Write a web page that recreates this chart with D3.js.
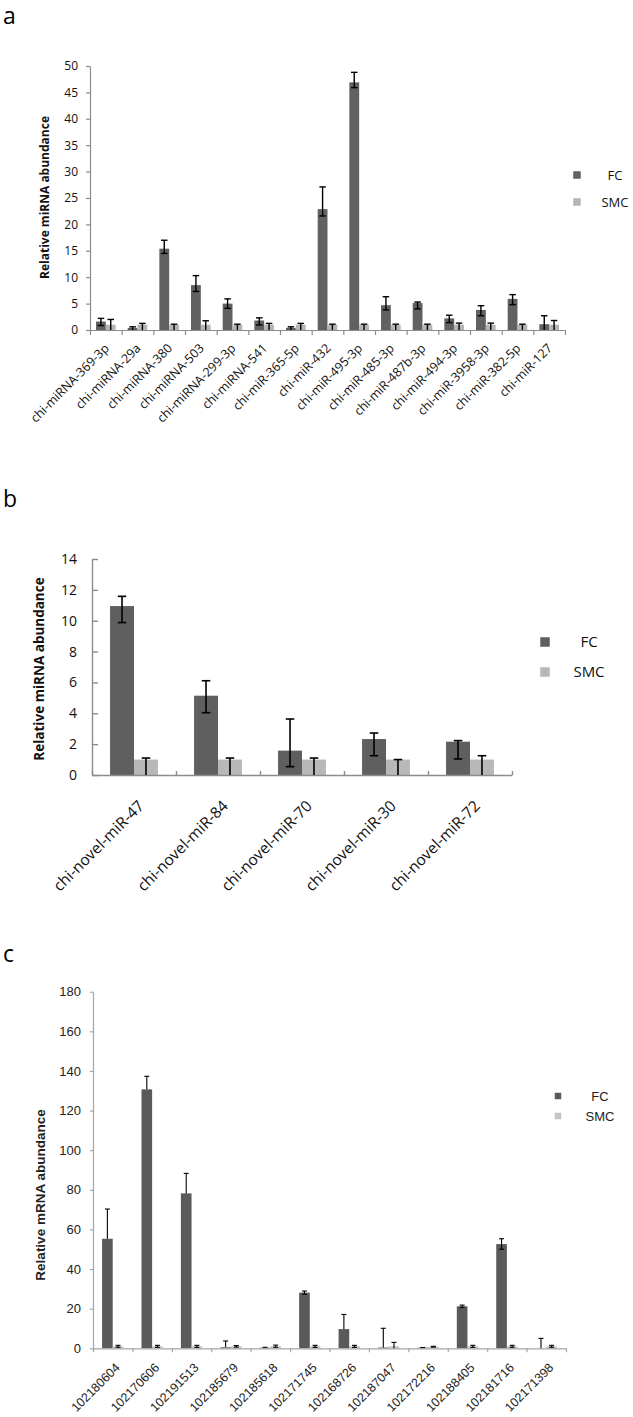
<!DOCTYPE html>
<html><head><meta charset="utf-8">
<script src="https://cdn.jsdelivr.net/npm/d3@7"></script>
<style>body{margin:0;background:#fff}svg{display:block}</style>
</head><body>
<script>
// ---------- DATA ----------
const seriesNames = ["FC", "SMC"];

// Panel a
const catsA = ["chi-miRNA-369-3p","chi-miRNA-29a","chi-miRNA-380","chi-miRNA-503","chi-miRNA-299-3p","chi-miRNA-541","chi-miR-365-5p","chi-miR-432","chi-miR-495-3p","chi-miR-485-3p","chi-miR-487b-3p","chi-miR-494-3p","chi-miR-3958-3p","chi-miR-382-5p","chi-miR-127"];
const fcA    = [1.6, 0.4, 15.4, 8.5, 5.0, 1.8, 0.4, 22.9, 46.9, 4.7, 5.1, 2.2, 3.8, 5.9, 1.1];
const fcAHi  = [2.2, 0.6, 17.0, 10.3, 5.9, 2.3, 0.6, 27.1, 48.8, 6.3, 5.3, 2.8, 4.6, 6.7, 2.7];
const fcALo  = [0.85, 0, 14.5, 7.3, 4.1, 0.95, 0, 21.6, 45.9, 3.8, 4.0, 1.4, 2.7, 4.8, 0];
const smcA   = [1.0, 1.0, 1.0, 1.0, 1.0, 1.0, 1.0, 1.0, 1.0, 1.0, 1.0, 1.0, 1.0, 1.0, 1.0];
const smcAHi = [2.0, 1.25, 1.1, 1.75, 1.1, 1.25, 1.25, 1.1, 1.1, 1.1, 1.1, 1.3, 1.3, 1.1, 1.8];
const smcALo = [0, 0, 0, 0, 0, 0, 0, 0, 0, 0, 0, 0, 0, 0, 0];
const ticksA = [0, 5, 10, 15, 20, 25, 30, 35, 40, 45, 50];

// Panel b
const catsB = ["chi-novel-miR-47","chi-novel-miR-84","chi-novel-miR-70","chi-novel-miR-30","chi-novel-miR-72"];
const fcB    = [10.95, 5.14, 1.58, 2.33, 2.16];
const fcBHi  = [11.58, 6.11, 3.63, 2.72, 2.23];
const fcBLo  = [9.88, 4.04, 0.54, 1.25, 1.04];
const smcB   = [1.0, 1.0, 1.0, 1.0, 1.0];
const smcBHi = [1.1, 1.1, 1.1, 1.0, 1.25];
const smcBLo = [0, 0, 0, 0, 0];
const ticksB = [0, 2, 4, 6, 8, 10, 12, 14];

// Panel c
const catsC = ["102180604","102170606","102191513","102185679","102185618","102171745","102168726","102187047","102172216","102188405","102181716","102171398"];
const fcC    = [55.3, 130.7, 78.2, 0.5, 0.3, 28.1, 9.7, 0.4, 0.3, 21.2, 52.6, 0];
const fcCHi  = [70.3, 137.3, 88.3, 3.7, 0.5, 28.9, 17.1, 10.1, 0.4, 21.8, 55.3, 5.0];
const fcCLo  = [55.3, 130.7, 78.2, 0.5, 0.3, 27.3, 9.7, 0.4, 0.3, 20.6, 50.0, 0];
const smcC   = [1.0, 1.0, 1.0, 1.0, 1.0, 1.0, 1.0, 1.0, 0.8, 1.0, 1.0, 1.0];
const smcCHi = [1.5, 1.5, 1.5, 1.4, 1.6, 1.5, 1.5, 3.0, 1.0, 1.5, 1.5, 1.5];
const smcCLo = [0.5, 0.5, 0.5, 0.6, 0.5, 0.5, 0.5, 0, 0.6, 0.5, 0.5, 0.5];
const ticksC = [0, 20, 40, 60, 80, 100, 120, 140, 160, 180];

// ---------- DRAW ----------
const W = 633, H = 1417;
const svg = d3.select("body").append("svg").attr("width", W).attr("height", H);
const FA = "'Open Sans', sans-serif";
const FC_ = "'Liberation Sans', Arial, sans-serif";

function panel(p) {
  const g = svg.append("g");
  const x0 = d3.scaleBand().domain(p.cats).range(p.xr).padding(0);
  const bw = x0.bandwidth();
  const po = (1 / p.frac - 2) / 2;
  const x1 = d3.scaleBand().domain(seriesNames).range([0, bw]).paddingInner(0).paddingOuter(po);
  const y = d3.scaleLinear().domain([0, p.ticks[p.ticks.length - 1]]).range(p.yr);
  const series = [
    {name: "FC", v: p.fc, hi: p.fcHi, lo: p.fcLo, color: p.c1},
    {name: "SMC", v: p.smc, hi: p.smcHi, lo: p.smcLo, color: p.c2}
  ];
  // bars
  series.forEach(s => {
    g.append("g").selectAll("rect")
      .data(p.cats.map((c, i) => ({c, v: s.v[i]})))
      .join("rect")
      .attr("x", d => x0(d.c) + x1(s.name))
      .attr("width", x1.bandwidth())
      .attr("y", d => y(d.v))
      .attr("height", d => y(0) - y(d.v))
      .attr("fill", s.color);
  });
  // y axis
  const ya = g.append("g").attr("transform", `translate(${p.xr[0]},0)`)
    .call(d3.axisLeft(y).tickValues(p.ticks).tickSize(p.yTick).tickSizeOuter(0).tickPadding(p.yPad));
  ya.select(".domain").attr("stroke", p.axisColor).attr("stroke-width", p.axisW);
  ya.selectAll(".tick line").attr("stroke", p.axisColor).attr("stroke-width", p.axisW);
  ya.selectAll(".tick text").attr("font-family", p.font).attr("font-size", p.tickFs).attr("fill", p.textColor);
  // x axis with ticks at category boundaries
  const n = p.cats.length;
  const xb = d3.scaleLinear().domain([0, n]).range(p.xr);
  const xa = g.append("g").attr("transform", `translate(0,${y(0)})`)
    .call(d3.axisBottom(xb).tickValues(d3.range(n + 1)).tickFormat("").tickSize(p.xTick).tickSizeOuter(0));
  xa.select(".domain").attr("stroke", p.axisColor).attr("stroke-width", p.axisW);
  xa.selectAll(".tick line").attr("stroke", p.axisColor).attr("stroke-width", p.axisW);
  // category labels
  const xl = g.append("g").attr("transform", `translate(0,${y(0)})`)
    .call(d3.axisBottom(x0).tickSize(0));
  xl.select(".domain").remove();
  xl.selectAll(".tick text")
    .attr("x", 0).attr("y", 0).attr("dy", 0)
    .attr("text-anchor", "end")
    .attr("transform", `translate(${p.lx},${p.ly}) rotate(-45)`)
    .attr("font-family", p.font).attr("font-size", p.labFs).attr("fill", p.textColor);
  // error bars
  series.forEach(s => {
    const cx = c => x0(c) + x1(s.name) + x1.bandwidth() / 2;
    const eg = g.append("g").attr("stroke", "#000").attr("stroke-width", p.errW).attr("fill", "none");
    p.cats.forEach((c, i) => {
      const hi = s.hi[i], lo = s.lo[i], v = s.v[i];
      if (hi <= lo) return;
      eg.append("line").attr("x1", cx(c)).attr("x2", cx(c)).attr("y1", y(lo)).attr("y2", y(hi));
      eg.append("line").attr("x1", cx(c) - p.cap / 2).attr("x2", cx(c) + p.cap / 2).attr("y1", y(hi)).attr("y2", y(hi));
      if (lo > 0 && lo < v)
        eg.append("line").attr("x1", cx(c) - p.cap / 2).attr("x2", cx(c) + p.cap / 2).attr("y1", y(lo)).attr("y2", y(lo));
    });
  });
  // y label
  g.append("text").attr("transform", `translate(${p.ylx},${p.yly}) rotate(-90)`)
    .attr("text-anchor", "middle").attr("font-family", p.font).attr("font-weight", "bold")
    .attr("font-size", p.ylFs).attr("fill", p.textColor).text(p.ylabel);
  // legend
  series.forEach((s, i) => {
    const ly = p.legY[i];
    g.append("rect").attr("x", p.legSqX - p.legSq / 2).attr("y", ly - p.legSq / 2)
      .attr("width", p.legSq).attr("height", p.legSq).attr("fill", s.color);
    g.append("text").attr("x", p.legTx).attr("y", ly).attr("dy", "0.35em")
      .attr("text-anchor", "middle").attr("font-family", p.font).attr("font-size", p.legFs)
      .attr("fill", p.textColor).text(s.name);
  });
  // panel letter
  svg.append("text").attr("x", p.letter[1]).attr("y", p.letter[2])
    .attr("font-family", FA).attr("font-size", 23).attr("fill", "#000").text(p.letter[0]);
}

panel({
  cats: catsA, fc: fcA, fcHi: fcAHi, fcLo: fcALo, smc: smcA, smcHi: smcAHi, smcLo: smcALo, ticks: ticksA,
  xr: [90, 565], yr: [330, 66], frac: 0.31, c1: "#616161", c2: "#b5b5b5",
  axisColor: "#8c8c8c", axisW: 1.2, yTick: 4, yPad: 8, xTick: 5,
  font: FA, tickFs: 12, labFs: 12.5, textColor: "#111", lx: 4, ly: 19,
  errW: 1.4, cap: 6.5,
  ylabel: "Relative miRNA abundance", ylx: 49, yly: 197.5, ylFs: 12,
  legY: [175, 202], legSqX: 577, legSq: 7.5, legTx: 615, legFs: 13,
  letter: ["a", 3, 24]
});

panel({
  cats: catsB, fc: fcB, fcHi: fcBHi, fcLo: fcBLo, smc: smcB, smcHi: smcBHi, smcLo: smcBLo, ticks: ticksB,
  xr: [92, 512], yr: [775, 559], frac: 0.285, c1: "#5f5f5f", c2: "#b8b8b8",
  axisColor: "#8c8c8c", axisW: 1.4, yTick: -6, yPad: 15, xTick: -4,
  font: FA, tickFs: 14, labFs: 15.5, textColor: "#111", lx: 11, ly: 32,
  errW: 1.6, cap: 8.5,
  ylabel: "Relative miRNA abundance", ylx: 44, yly: 669, ylFs: 13.5,
  legY: [642, 672], legSqX: 545, legSq: 9.5, legTx: 589, legFs: 15,
  letter: ["b", 3, 507]
});

panel({
  cats: catsC, fc: fcC, fcHi: fcCHi, fcLo: fcCLo, smc: smcC, smcHi: smcCHi, smcLo: smcCLo, ticks: ticksC,
  xr: [93, 566], yr: [1348.3, 991.7], frac: 0.27, c1: "#5a5a5a", c2: "#c4c4c4",
  axisColor: "#a6a6a6", axisW: 1.2, yTick: 3, yPad: 9, xTick: 4,
  font: FC_, tickFs: 13, labFs: 12.5, textColor: "#222", lx: 8, ly: 20,
  errW: 1.1, cap: 5,
  ylabel: "Relative mRNA abundance", ylx: 45, yly: 1195, ylFs: 13.5,
  legY: [1096, 1116], legSqX: 558, legSq: 6.5, legTx: 600, legFs: 13,
  letter: ["c", 3, 962]
});
</script>
</body></html>
